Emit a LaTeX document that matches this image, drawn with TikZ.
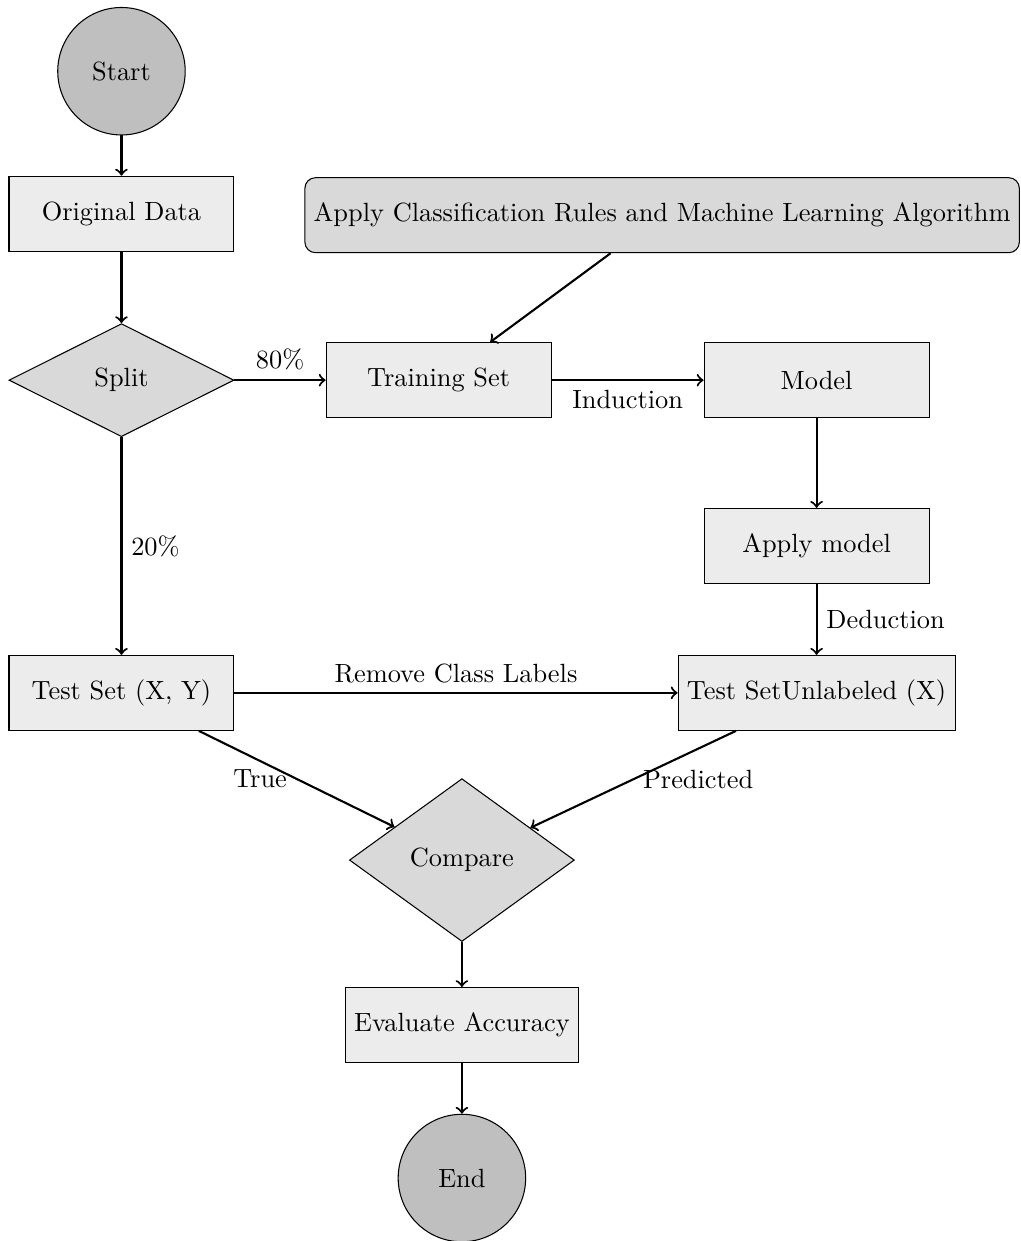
\documentclass[tikz,border=0pt]{standalone}
\usepackage{color}
\usepackage{amsmath}
\usepackage{xcolor}
\usepackage{tikz}
\usetikzlibrary{shapes.geometric}

\begin{document}
\begin{tikzpicture}[startstop/.style = {circle, draw, fill=gray!50, minimum size = 1.7cm},
    process/.style = {rectangle, draw, fill=gray!15, minimum width = 3cm, minimum height = 1cm},
    rules/.style = {rectangle, rounded corners, draw, fill=gray!30, minimum height = 1cm},
    decision/.style = {diamond, draw, fill=gray!30, minimum width = 3cm},
    arrow/.style = {thick, ->}]

\useasboundingbox (0,0) rectangle (13.61,-16.55);

\node (start) [startstop] at (1.62,-0.95) {Start};
\node (data) [process] at (1.62,-2.85) {Original Data};
\node (split) [decision] at (1.62,-5.07) {Split};
\node (train) [process] at (5.85,-5.07) {Training Set};
\node (model) [process] at (10.89,-5.07) {Model};
\node (rules) [rules] at (8.83,-2.87) {Apply Classification Rules and Machine Learning Algorithm};
\node (apply) [process] at (10.89,-7.28) {Apply model};
\node (testxy) [process] at (1.62,-9.24) {Test Set (X, Y)};
\node (testx) [process] at (10.89,-9.24) {Test SetUnlabeled (X)};
\node (compare) [decision] at (6.16,-11.47) {Compare};
\node (eval) [process] at (6.16,-13.67) {Evaluate Accuracy};
\node (end) [startstop] at (6.16,-15.71) {End};

\draw [arrow] (start) -- (data);
\draw [arrow] (data) -- (split);
\draw [arrow] (split) -- node [above] {80\%} (train);
\draw [arrow] (rules) -- (train);
\draw [arrow] (train) -- node [below] {Induction} (model);
\draw [arrow] (model) -- (apply);
\draw [arrow] (apply) -- node [right] {Deduction} (testx);
\draw [arrow] (split) -- node [right] {20\%} (testxy);
\draw [arrow] (testxy) -- node [above] {Remove Class Labels} (testx);
\draw [arrow] (testxy) -- node [left] {True} (compare);
\draw [arrow] (testx) -- node [right] {Predicted} (compare);
\draw [arrow] (compare) -- (eval);
\draw [arrow] (eval) -- (end);

\end{tikzpicture}
\end{document}
